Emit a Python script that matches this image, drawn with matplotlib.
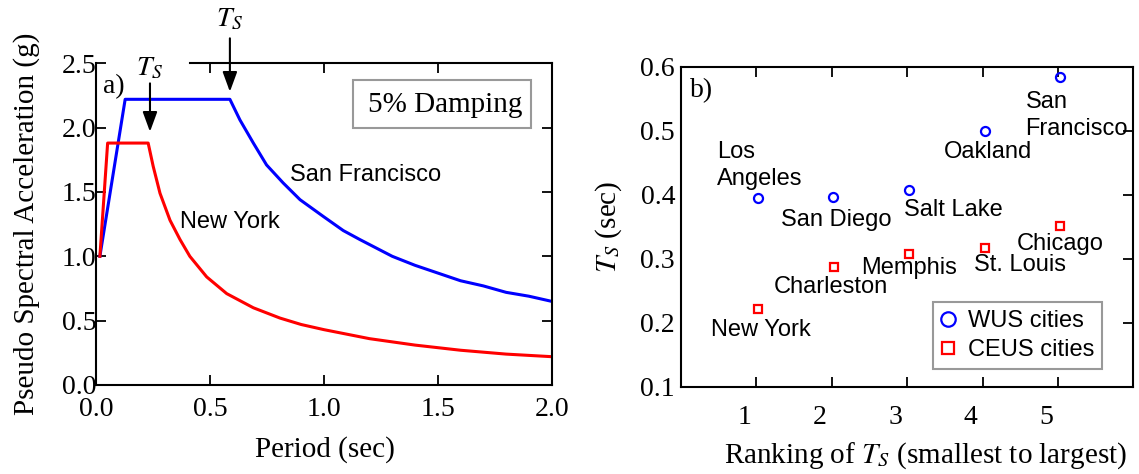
"""設計応答スペクトル(a)と T_S のランキング(b)を描くスクリプト.
out.png に保存する.
"""
import matplotlib
matplotlib.use('Agg')
import matplotlib.pyplot as plt
from matplotlib.patches import Rectangle
from matplotlib.transforms import ScaledTranslation

# --- a) 応答スペクトル ---
period_sf = [0.016, 0.127, 0.587, 0.631, 0.69, 0.748, 0.821, 0.895, 0.997,
             1.085, 1.158, 1.3, 1.4, 1.5, 1.6, 1.7, 1.8, 1.9, 2.0]
sa_sf = [1.00, 2.22, 2.22, 2.06, 1.88, 1.71, 1.57, 1.44, 1.31,
         1.20, 1.13, 1.00, 0.93, 0.87, 0.81, 0.77, 0.72, 0.69, 0.65]
period_ny = [0.016, 0.050, 0.228, 0.25, 0.28, 0.324, 0.368, 0.411, 0.485,
             0.573, 0.69, 0.807, 0.9, 1.0, 1.2, 1.4, 1.6, 1.8, 2.0]
sa_ny = [1.00, 1.88, 1.88, 1.70, 1.49, 1.28, 1.13, 1.00, 0.84,
         0.71, 0.60, 0.52, 0.47, 0.43, 0.36, 0.31, 0.27, 0.24, 0.22]
ts_sf = 0.587
ts_ny = 0.236

# --- b) T_S のランキング ---
wus_cities = ['Los\nAngeles', 'San Diego', 'Salt Lake', 'Oakland', 'San\nFrancisco']
wus_rank = [1.02, 2.02, 3.03, 4.03, 5.03]
wus_ts = [0.395, 0.396, 0.407, 0.500, 0.584]
ceus_cities = ['New York', 'Charleston', 'Memphis', 'St. Louis', 'Chicago']
ceus_rank = [1.02, 2.03, 3.03, 4.03, 5.03]
ceus_ts = [0.221, 0.287, 0.308, 0.316, 0.351]

# 都市名ラベルの位置 (左端, ベースライン)
wus_label_xy = [(0.482, 0.415), (1.333, 0.351), (2.954, 0.366),
                (3.483, 0.458), (4.57, 0.493)]
ceus_label_xy = [(0.402, 0.179), (1.229, 0.247), (2.396, 0.2756),
                 (3.885, 0.280), (4.452, 0.3136)]

plt.rcParams['font.family'] = ['Liberation Serif', 'DejaVu Serif']
plt.rcParams['mathtext.fontset'] = 'stix'
SANS = ['Liberation Sans', 'DejaVu Sans']
TICK_SIZE = 20
LABEL_SIZE = 21
SANS_SIZE = 17


def style_axes(ax, left_ticks=True):
    """目盛りを内向きにしてスパインを太くする."""
    for sp in ax.spines.values():
        sp.set_linewidth(1.5)
    ax.tick_params(axis='both', which='both', direction='in', length=7,
                   width=1.3, labelsize=TICK_SIZE, top=True, right=True,
                   left=left_ticks)


fig = plt.figure(figsize=(11.39, 4.74), dpi=100)

# ================= a) =================
ax1 = fig.add_axes([0.0845, 0.1878, 0.3998, 0.6787])
ax1.plot(period_sf, sa_sf, color='#0000ff', lw=2.2)
ax1.plot(period_ny, sa_ny, color='#ff0000', lw=2.2)
ax1.set_xlim(0, 2.0)
ax1.set_ylim(0, 2.5)
ax1.set_xticks([0.0, 0.5, 1.0, 1.5, 2.0])
ax1.set_yticks([0.0, 0.5, 1.0, 1.5, 2.0, 2.5])
ax1.xaxis.set_major_formatter('{x:.1f}')
ax1.yaxis.set_major_formatter('{x:.1f}')
style_axes(ax1)
ax1.tick_params(axis='x', pad=9)
ax1.tick_params(axis='y', pad=0)
ax1.spines['top'].set_bounds(0.41, 2.0)
ax1.set_xlabel('Period (sec)', fontsize=LABEL_SIZE)
ax1.set_ylabel('Pseudo Spectral Acceleration (g)', fontsize=LABEL_SIZE)
ax1.xaxis.set_label_coords(0.502, -0.16)
ax1.yaxis.set_label_coords(-0.1236, 0.5)

ax1.text(0.031, 2.266, 'a)', fontsize=TICK_SIZE, ha='left', va='baseline')
ax1.text(0.852, 1.583, 'San Francisco', family=SANS, fontsize=SANS_SIZE,
         ha='left', va='baseline')
ax1.text(0.368, 1.222, 'New York', family=SANS, fontsize=SANS_SIZE,
         ha='left', va='baseline')

# 5% Damping の枠
ax1.add_patch(Rectangle((1.128, 1.998), 0.783, 0.37, fill=False,
                        edgecolor='#999999', lw=1.5))
ax1.text(1.534, 2.124, '5% Damping', fontsize=LABEL_SIZE, ha='center',
         va='baseline')

# T_S の矢印
arrow = dict(arrowstyle='-|>,head_length=0.6,head_width=0.22',
             mutation_scale=20, color='k', lw=1.5, shrinkA=0, shrinkB=0)
ax1.annotate('', xy=(ts_ny, 1.968), xytext=(ts_ny, 2.344),
             arrowprops=arrow, annotation_clip=False)
ax1.text(ts_ny, 2.46, '$T_S$', fontsize=TICK_SIZE, ha='center', va='center')
ax1.annotate('', xy=(ts_sf, 2.279), xytext=(ts_sf, 2.694),
             arrowprops=arrow, annotation_clip=False)
ax1.text(ts_sf, 2.836, '$T_S$', fontsize=TICK_SIZE, ha='center', va='center')

# ================= b) =================
ax2 = fig.add_axes([0.5976, 0.1842, 0.3975, 0.6751])
ax2.plot(wus_rank, wus_ts, 'o', ms=6.5, mfc='none', mec='#0000ff', mew=1.6,
         label='WUS cities')
ax2.plot(ceus_rank, ceus_ts, 's', ms=5.3, mfc='none', mec='#ff0000', mew=1.6,
         label='CEUS cities')
for name, (x, y) in zip(wus_cities, wus_label_xy):
    ax2.text(x, y, name, family=SANS, fontsize=SANS_SIZE, ha='left',
             va='baseline', linespacing=1.3)
for name, (x, y) in zip(ceus_cities, ceus_label_xy):
    ax2.text(x, y, name, family=SANS, fontsize=SANS_SIZE, ha='left',
             va='baseline')
ax2.set_xlim(0, 6)
ax2.set_ylim(0.1, 0.6)
ax2.set_xticks([1, 2, 3, 4, 5])
ax2.set_yticks([0.1, 0.2, 0.3, 0.4, 0.5, 0.6])
ax2.yaxis.set_major_formatter('{x:.1f}')
style_axes(ax2, left_ticks=False)
ax2.tick_params(axis='x', pad=13.5)
ax2.tick_params(axis='y', pad=4)
# x 目盛りラベルは少し左にずれている
shift = ScaledTranslation(-12 / 100, 0, fig.dpi_scale_trans)
for lbl in ax2.get_xticklabels():
    lbl.set_transform(lbl.get_transform() + shift)
ax2.set_xlabel('Ranking of $T_S$ (smallest to largest)', fontsize=LABEL_SIZE)
ax2.set_ylabel('$T_S$ (sec)', fontsize=LABEL_SIZE)
ax2.xaxis.set_label_coords(0.54, -0.167)
ax2.yaxis.set_label_coords(-0.126, 0.5)
ax2.text(0.12, 0.553, 'b)', fontsize=TICK_SIZE, ha='left', va='baseline')

leg = ax2.legend(loc='lower right', bbox_to_anchor=(0.931, 0.054),
                 borderaxespad=0, prop={'family': SANS, 'size': SANS_SIZE},
                 markerscale=1.6, fancybox=False, framealpha=1,
                 handlelength=0.6, handletextpad=0.53, borderpad=0.35,
                 labelspacing=0.3)
leg.get_frame().set_edgecolor('#999999')
leg.get_frame().set_linewidth(1.5)

fig.savefig('out.png', dpi=100)
